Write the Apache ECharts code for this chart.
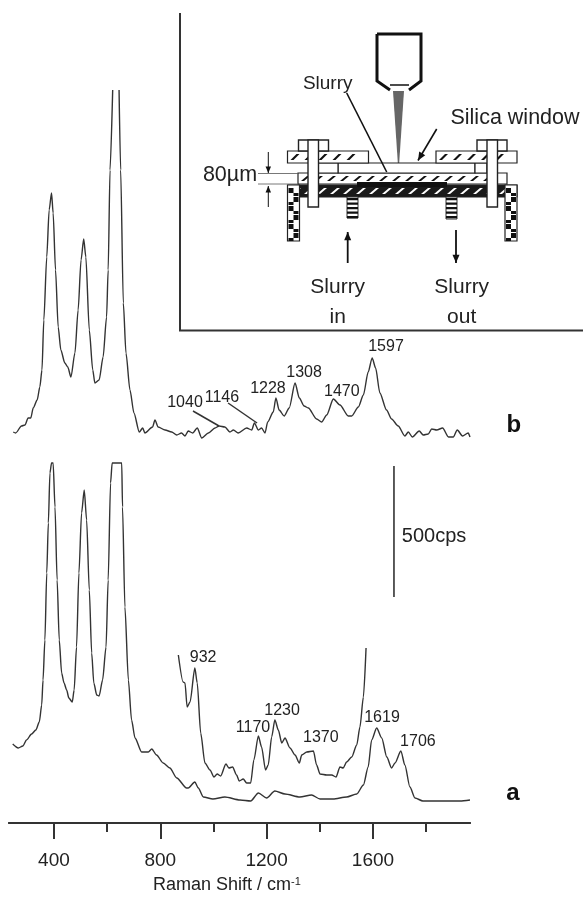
<!DOCTYPE html>
<html><head><meta charset="utf-8">
<style>html,body{margin:0;padding:0;background:#fff}#c{width:583px;height:898px}</style>
<script src="https://cdn.jsdelivr.net/npm/echarts@6/dist/echarts.min.js"></script>
</head><body><div id="c"></div>
<script>
// [Raman shift / cm-1, intensity (arbitrary height units)]
const spectrumA=[[245,79],[266,75],[283,77],[297,83],[316,89],[332,93],[345,101],[354,118],[359,143],[366,183],[373,250],[379,300],[385,350],[391,360],[397,360],[404,316],[412,243],[420,183],[429,150],[438,140],[448,133],[456,125],[469,121],[476,133],[485,176],[494,250],[504,310],[514,333],[523,303],[533,233],[542,170],[550,140],[561,128],[570,127],[583,143],[596,176],[604,243],[613,340],[619,360],[655,360],[658,316],[667,216],[680,143],[692,103],[705,85],[730,71],[755,71],[768,74],[786,68],[811,60],[836,55],[862,45],[899,35],[905,35],[930,41],[943,35],[962,26],[998,24],[1043,26],[1100,23],[1140,22],[1169,30],[1200,25],[1231,32],[1269,29],[1325,26],[1369,28],[1401,24],[1450,24],[1501,26],[1539,29],[1564,38],[1582,56],[1595,83],[1614,95],[1633,85],[1652,66],[1670,55],[1683,60],[1705,72],[1720,58],[1739,36],[1758,25],[1788,22],[1852,22],[1927,22],[1965,23]];
const spectrumAZoomed=[[868,168],[886,141],[893,140],[901,116],[912,121],[930,155],[939,140],[952,90],[968,60],[987,53],[1002,46],[1014,49],[1027,47],[1047,59],[1058,55],[1072,56],[1087,48],[1097,42],[1112,44],[1125,40],[1140,40],[1152,63],[1169,87],[1181,76],[1196,53],[1206,58],[1219,86],[1231,103],[1244,93],[1257,80],[1269,85],[1288,75],[1307,68],[1323,60],[1332,68],[1351,71],[1376,72],[1388,58],[1401,49],[1426,48],[1445,48],[1461,46],[1476,56],[1488,55],[1501,61],[1520,66],[1539,78],[1551,96],[1564,126],[1574,175]];
const spectrumB=[[247,391],[256,390],[278,397],[291,398],[303,405],[313,405],[322,415],[337,423],[347,436],[355,453],[362,503],[373,566],[382,613],[391,630],[397,610],[406,553],[416,496],[426,473],[441,460],[452,456],[464,446],[479,470],[491,513],[502,563],[512,584],[520,566],[533,493],[546,453],[554,440],[570,443],[585,466],[598,506],[604,553],[611,653],[621,733],null,[645,733],[651,653],[661,520],[671,470],[686,433],[701,410],[721,391],[734,395],[742,390],[771,396],[780,403],[792,396],[818,393],[843,391],[862,388],[880,390],[893,387],[905,392],[922,390],[939,395],[956,385],[981,390],[1006,395],[1021,397],[1043,396],[1062,391],[1075,393],[1093,390],[1125,395],[1144,393],[1154,400],[1169,393],[1181,395],[1194,390],[1204,401],[1225,411],[1235,425],[1247,413],[1266,407],[1285,415],[1307,440],[1323,425],[1341,417],[1357,415],[1388,404],[1407,401],[1426,408],[1451,424],[1476,418],[1507,407],[1520,407],[1545,416],[1564,428],[1582,451],[1597,465],[1610,455],[1626,430],[1651,413],[1670,404],[1695,397],[1720,387],[1733,391],[1748,386],[1774,392],[1789,388],[1808,389],[1821,394],[1840,393],[1862,395],[1884,386],[1902,386],[1917,393],[1937,387],[1958,390],[1965,386]];
// label anchor [x, y, text]
const peakLabels=[[893,420,'1040'],[1032,425,'1146'],[1205,434,'1228'],[1341,450,'1308'],[1483,431,'1470'],[1649,476,'1597'],[961,165,'932'],[1149,95,'1170'],[1258,112,'1230'],[1404,85,'1370'],[1634,105,'1619'],[1769,81,'1706']];
const leader1040=[[923,412],[1021,397]];
const leader1146=[[1055,420],[1164,400]];
const scaleBar=[[1679,357],[1679,226]];
const scaleLabel=[[1830,287,'500cps']];
const traceLabels=[[2130,398,'b'],[2126,30,'a']];
const majorTicks=[400,800,1200,1600];
const minorTicks=[600,1000,1400,1800];

const INK='#333';
function lineSeries(data,w,straight){return {type:'line',data:data,showSymbol:false,symbol:'none',silent:true,connectNulls:false,
  smooth:straight?false:0.25,smoothMonotone:'x',
  lineStyle:{color:INK,width:w||1.4},animation:false};}
function labelSeries(data,font){return {type:'scatter',data:data,symbolSize:1,silent:true,animation:false,clip:false,
  itemStyle:{color:'transparent',opacity:1},
  label:{show:true,position:'inside',align:'center',verticalAlign:'middle',formatter:p=>p.value[2],
    fontFamily:'Liberation Sans',color:font.color||'#222',fontSize:font.size,fontWeight:font.weight||'normal'}};}

// ---- inset schematic (not data) ----
const g=[];
const R=(x,y,w,h,fill,stroke,lw)=>g.push({type:'rect',shape:{x,y,width:w,height:h},style:{fill:fill||'#fff',stroke:stroke||null,lineWidth:lw||0}});
const L=(pts,lw,col)=>g.push({type:'polyline',shape:{points:pts},style:{fill:null,stroke:col||'#111',lineWidth:lw||1.5}});
const T=(x,y,t,s)=>g.push({type:'text',x,y,style:{text:t,fill:'#222',fontSize:s,fontFamily:'Liberation Sans',align:'center',verticalAlign:'middle'}});
const arrow=(x1,y1,x2,y2,lw,sz)=>{L([[x1,y1],[x2,y2]],lw);const a=Math.atan2(y2-y1,x2-x1),s=sz;
  g.push({type:'polygon',shape:{points:[[x2,y2],[x2-s*Math.cos(a-.4),y2-s*Math.sin(a-.4)],[x2-s*Math.cos(a+.4),y2-s*Math.sin(a+.4)]]},style:{fill:'#111'}});};
function hatch(x,y,w,h,stepX,dash,bg,fg){
  R(x,y,w,h,bg,'#222',1.2);
  for(let px=x+3;px+dash+5<x+w;px+=stepX){
    g.push({type:'polygon',shape:{points:[[px,y+h-3],[px+dash,y+3],[px+dash+3,y+3],[px+3,y+h-3]]},style:{fill:fg}});
  }
}
function leg(x,y,w,h){R(x,y,w,h,'#fff','#222',1.2);let i=0;for(let yy=y+3;yy<y+h-6;yy+=9){i++;R(x+(i%2?1:w/2),yy,w/2-1,5,'#111');R(x+(i%2?w/2:1),yy+5,w/2-1,3,'#111');}}
function stripes(x,y,w,h,step){R(x,y,w,h,'#fff','#333',1);for(let yy=y+1;yy<y+h-1;yy+=step)R(x,yy,w,step*.5,'#111');}
// frame
L([[180,13],[180,330.5],[583,330.5]],2,'#333');
// objective
L([[377,34],[421,34],[421,81],[409,90]],3);
L([[377,34],[377,81],[390,90]],3);
L([[390,85],[409,85]],1.5);
g.push({type:'polygon',shape:{points:[[393,91],[404,91],[398.5,173]]},style:{fill:'#666'}});
// lower plate and legs
hatch(288,185,229,12,13,7,'#1a1a1a','#fff');
leg(287.5,185,12,56);
leg(505,185,12,56);
// slurry layer
hatch(298,173,209,11,13,6,'#fff','#111');
R(357,182,90,5,'#111');
// window
R(338,163,137,10,'#fff','#222',1.2);
R(318,163,20,10,'#fff','#222',1.2);
R(475,163,12,10,'#fff','#222',1.2);
// top plates
hatch(287.5,151,81,12,14,6,'#fff','#111');
hatch(436,151,81,12,14,6,'#fff','#111');
// caps and bolts
R(298.5,140,30,11,'#fff','#222',1.4);
R(477,140,30,11,'#fff','#222',1.4);
R(308,140,10.5,67,'#fff','#222',1.4);
R(487,140,10.5,67,'#fff','#222',1.4);
// ports
stripes(347,197,11,21,4.5);
stripes(446,197,11,22,4.5);
// arrows and leaders
arrow(347.7,263,347.7,232,1.8,9);
arrow(456,230,456,263,1.8,9);
arrow(268.3,152,268.3,173,1,7);
arrow(268.3,207,268.3,186,1,7);
L([[258,173.5],[298,173.5]],.8,'#555');
L([[258,184],[298,184]],.8,'#555');
L([[346.7,93],[386.7,172]],1.6);
arrow(436.7,129,418,160.5,1.6,9);
// text
T(327.7,84,'Slurry',19);T(515,118,'Silica window',21.5);T(230,175,'80µm',21.5);
T(337.7,287,'Slurry',21);T(337.7,317,'in',21);T(461.7,287,'Slurry',21);T(461.7,317,'out',21);

const chart=echarts.init(document.getElementById('c'),null,{renderer:'canvas'});
const tickAxis=(vals,len,labels)=>({type:'value',min:231,max:1965,position:'bottom',splitLine:{show:false},
  axisLine:{show:true,onZero:false,lineStyle:{color:'#333',width:2}},
  axisTick:{show:true,customValues:vals,length:len,lineStyle:{color:'#333',width:2}},
  axisLabel:labels?{show:true,customValues:vals,margin:28,fontSize:19,color:'#222',fontFamily:'Liberation Sans',formatter:v=>String(v)}:{show:false}});
chart.setOption({
  animation:false,backgroundColor:'#fff',
  grid:{left:9,top:0,width:461,height:823,containLabel:false},
  title:{text:'Raman Shift / cm{s|-1}',left:153,top:876,padding:0,
    textStyle:{fontFamily:'Liberation Sans',fontSize:18,fontWeight:'normal',color:'#222',rich:{s:{fontSize:11,verticalAlign:'top',padding:[0,0,8,0],fontFamily:'Liberation Sans',color:'#222'}}}},
  xAxis:[tickAxis(majorTicks,16,true),tickAxis(minorTicks,9,false)],
  yAxis:{type:'value',min:0,max:823,show:false,splitLine:{show:false}},
  graphic:{elements:g},
  series:[lineSeries(spectrumA),lineSeries(spectrumAZoomed),lineSeries(spectrumB),
    lineSeries(leader1040,1.5,true),lineSeries(leader1146,1.5,true),lineSeries(scaleBar,1.6,true),
    labelSeries(peakLabels,{size:16}),labelSeries(scaleLabel,{size:20}),labelSeries(traceLabels,{size:24,weight:'bold',color:'#111'})]
});
</script></body></html>
